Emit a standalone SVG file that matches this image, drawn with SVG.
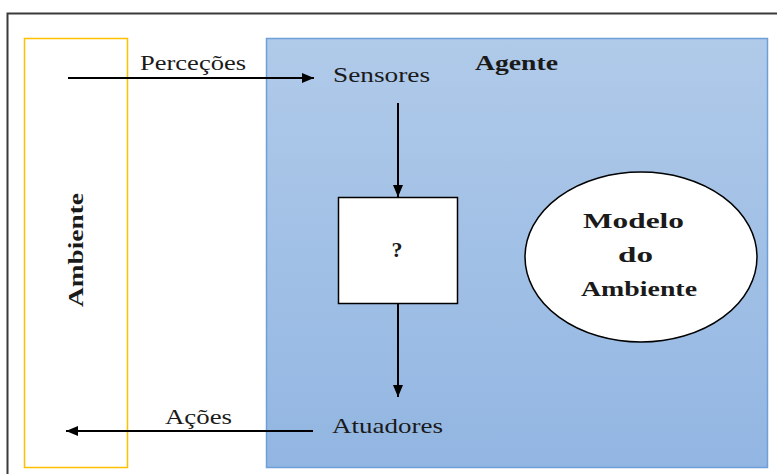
<svg xmlns="http://www.w3.org/2000/svg" width="777" height="474" viewBox="0 0 777 474">
  <style>
    .lbl { font-family: "Liberation Serif", "Times New Roman", serif; font-size: 22px; fill: #1a1a1a; }
    .bold { font-weight: bold; }
    .wire { stroke: #000; stroke-width: 2; fill: none; }
  </style>
  <defs>
    <linearGradient id="agentFill" x1="0" y1="0" x2="0" y2="1">
      <stop offset="0" stop-color="#B0CAE9"/>
      <stop offset="1" stop-color="#92B6E2"/>
    </linearGradient>
    <marker id="head" viewBox="0 0 12 10" refX="12" refY="5" markerWidth="12" markerHeight="10" markerUnits="userSpaceOnUse" orient="auto">
      <path d="M0,0 L12,5 L0,10 Z" fill="#000"/>
    </marker>
  </defs>

  <rect width="777" height="474" fill="#fff"/>

  <!-- outer frame -->
  <rect x="7.5" y="13.5" width="780" height="480" fill="none" stroke="#3a3a3a" stroke-width="2"/>

  <!-- environment -->
  <g id="ambiente">
    <rect x="24.5" y="38.5" width="103" height="429" fill="none" stroke="#FFC000" stroke-width="1.5"/>
    <text class="lbl bold" transform="translate(83,250) rotate(-90)" text-anchor="middle" textLength="114" lengthAdjust="spacingAndGlyphs">Ambiente</text>
  </g>

  <!-- agent -->
  <g id="agente">
    <rect x="266.5" y="38.5" width="501" height="429" fill="url(#agentFill)" stroke="#6E9FD8" stroke-width="1.5"/>
    <text class="lbl bold" x="475" y="70" textLength="83" lengthAdjust="spacingAndGlyphs">Agente</text>
  </g>

  <g id="sensores">
    <text class="lbl" x="333" y="82" textLength="97" lengthAdjust="spacingAndGlyphs">Sensores</text>
  </g>

  <g id="decisao">
    <rect x="338.5" y="197.5" width="119" height="106" fill="#fff" stroke="#000" stroke-width="1.5"/>
    <text class="lbl bold" x="397" y="257" text-anchor="middle" font-size="21">?</text>
  </g>

  <g id="atuadores">
    <text class="lbl" x="332" y="433" textLength="111" lengthAdjust="spacingAndGlyphs">Atuadores</text>
  </g>

  <g id="modelo">
    <ellipse cx="641" cy="257" rx="116" ry="85" fill="#fff" stroke="#000" stroke-width="1.5"/>
    <text class="lbl bold" font-size="23" x="583" y="228" textLength="101" lengthAdjust="spacingAndGlyphs">Modelo</text>
    <text class="lbl bold" font-size="23" x="618" y="262" textLength="35" lengthAdjust="spacingAndGlyphs">do</text>
    <text class="lbl bold" font-size="23" x="581" y="296" textLength="116" lengthAdjust="spacingAndGlyphs">Ambiente</text>
  </g>

  <!-- connectors -->
  <g id="connectors">
    <line class="wire" x1="68" y1="78" x2="314" y2="78" marker-end="url(#head)"/>
    <text class="lbl" x="140" y="70" textLength="106" lengthAdjust="spacingAndGlyphs">Perceções</text>
    <line class="wire" x1="398" y1="103" x2="398" y2="197" marker-end="url(#head)"/>
    <line class="wire" x1="398" y1="304" x2="398" y2="397" marker-end="url(#head)"/>
    <line class="wire" x1="313" y1="431" x2="66" y2="431" marker-end="url(#head)"/>
    <text class="lbl" x="165" y="424" textLength="67" lengthAdjust="spacingAndGlyphs">Ações</text>
  </g>
</svg>
